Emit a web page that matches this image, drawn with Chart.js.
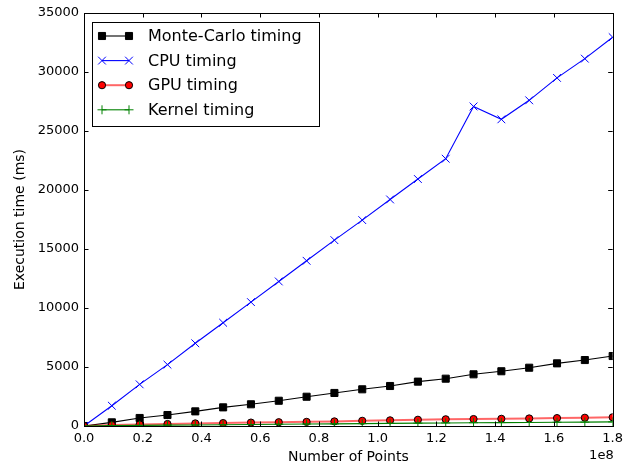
<!DOCTYPE html>
<html>
<head>
<meta charset="utf-8">
<script src="https://cdn.jsdelivr.net/npm/chart.js@4/dist/chart.umd.min.js"></script>
<style>
  html, body { margin: 0; padding: 0; background: #fff; }
  #wrap { width: 628px; height: 468px; }
</style>
</head>
<body>
<div id="wrap"><canvas id="timingChart" width="628" height="468"></canvas></div>
<script>
        // Number of points per run
        const pointCounts = [0, 9473684, 18947368, 28421053, 37894737, 47368421, 56842105, 66315789,
            75789474, 85263158, 94736842, 104210526, 113684211, 123157895, 132631579, 142105263,
            151578947, 161052632, 170526316, 180000000];

        // Execution times in ms
        const monteCarloTimes = [0, 310, 680, 930, 1240, 1580, 1840, 2140, 2480, 2800,
            3110, 3390, 3760, 4010, 4380, 4640, 4940, 5310, 5590, 5930];
        const cpuTimes = [0, 1720, 3530, 5200, 7010, 8750, 10500, 12250, 14000, 15750,
            17450, 19200, 20930, 22650, 27080, 25990, 27600, 29500, 31130, 32950];
        const gpuTimes = [0, 80, 130, 170, 220, 250, 290, 320, 350, 390,
            440, 480, 530, 570, 590, 610, 640, 670, 700, 740];
        const kernelTimes = [0, 30, 50, 70, 90, 110, 130, 150, 170, 180,
            200, 220, 240, 260, 280, 290, 300, 320, 330, 350];

        const xTicks = [0, 0.2e8, 0.4e8, 0.6e8, 0.8e8, 1.0e8, 1.2e8, 1.4e8, 1.6e8, 1.8e8];
        const yTicks = [0, 5000, 10000, 15000, 20000, 25000, 30000, 35000];

        const FONT = "'DejaVu Sans', 'Liberation Sans', sans-serif";

        function toPoints(values) {
            return values.map((v, i) => ({ x: pointCounts[i], y: v }));
        }

        const series = [
            { label: 'Monte-Carlo timing', data: monteCarloTimes, line: '#000000', lineWidth: 1.1,
              pointStyle: 'rect', radius: 5, fill: '#000000', edge: '#000000', order: 4 },
            { label: 'CPU timing', data: cpuTimes, line: '#0000ff', lineWidth: 1.1,
              pointStyle: 'crossRot', radius: 5.5, fill: '#0000ff', edge: '#0000ff', order: 3 },
            { label: 'GPU timing', data: gpuTimes, line: 'rgba(255, 0, 0, 0.6)', lineWidth: 2,
              pointStyle: 'circle', radius: 3.6, fill: '#ff0000', edge: '#000000', order: 2 },
            { label: 'Kernel timing', data: kernelTimes, line: '#008000', lineWidth: 1.1,
              pointStyle: 'cross', radius: 4.5, fill: '#008000', edge: '#008000', order: 1 }
        ];

        // Frame with inward ticks on all four sides, plus the 1e8 offset text
        const framePlugin = {
            id: 'frame',
            afterDatasetsDraw(chart) {
                const { ctx, chartArea: a, scales } = chart;
                const len = 4.5;
                ctx.save();
                ctx.strokeStyle = '#000';
                ctx.lineWidth = 1;
                ctx.beginPath();
                xTicks.forEach(v => {
                    const px = Math.round(scales.x.getPixelForValue(v)) + 0.5;
                    ctx.moveTo(px, a.bottom); ctx.lineTo(px, a.bottom - len);
                    ctx.moveTo(px, a.top); ctx.lineTo(px, a.top + len);
                });
                yTicks.forEach(v => {
                    const py = Math.round(scales.y.getPixelForValue(v)) + 0.5;
                    ctx.moveTo(a.left, py); ctx.lineTo(a.left + len, py);
                    ctx.moveTo(a.right, py); ctx.lineTo(a.right - len, py);
                });
                ctx.stroke();
                ctx.strokeRect(Math.round(a.left) + 0.5, Math.round(a.top) + 0.5,
                    Math.round(a.right - a.left), Math.round(a.bottom - a.top));

                ctx.fillStyle = '#000';
                ctx.font = '13px ' + FONT;
                ctx.textAlign = 'right';
                ctx.textBaseline = 'middle';
                ctx.fillText('1e8', a.right + 1, 456);
                ctx.restore();
            }
        };

        // Boxed legend in the upper left corner of the plot
        const legendPlugin = {
            id: 'boxLegend',
            afterDraw(chart) {
                const { ctx } = chart;
                const box = { x: 92.5, y: 22.5, w: 227, h: 104 };
                ctx.save();
                ctx.fillStyle = '#fff';
                ctx.strokeStyle = '#000';
                ctx.lineWidth = 1;
                ctx.fillRect(box.x, box.y, box.w, box.h);
                ctx.strokeRect(box.x, box.y, box.w, box.h);

                series.forEach((s, i) => {
                    const y = 36 + i * 24.6;
                    const x0 = 102, x1 = 129;
                    ctx.strokeStyle = s.line;
                    ctx.lineWidth = s.lineWidth;
                    ctx.beginPath();
                    ctx.moveTo(x0, y); ctx.lineTo(x1, y);
                    ctx.stroke();
                    [x0, x1].forEach(px => {
                        ctx.fillStyle = s.fill;
                        ctx.strokeStyle = s.edge;
                        ctx.lineWidth = 1;
                        Chart.helpers.drawPoint(ctx, {
                            pointStyle: s.pointStyle, radius: s.radius, rotation: 0, borderWidth: 1
                        }, px, y);
                    });
                    ctx.fillStyle = '#000';
                    ctx.font = '16px ' + FONT;
                    ctx.textAlign = 'left';
                    ctx.textBaseline = 'middle';
                    ctx.fillText(s.label, 148, y + 1);
                });
                ctx.restore();
            }
        };

        document.addEventListener('DOMContentLoaded', function () {
            const ctx = document.getElementById('timingChart').getContext('2d');
            new Chart(ctx, {
                type: 'line',
                data: {
                    datasets: series.map(s => ({
                        label: s.label,
                        data: toPoints(s.data),
                        order: s.order,
                        borderColor: s.line,
                        borderWidth: s.lineWidth,
                        backgroundColor: s.fill,
                        pointStyle: s.pointStyle,
                        pointRadius: s.radius,
                        pointBackgroundColor: s.fill,
                        pointBorderColor: s.edge,
                        pointBorderWidth: 1,
                        tension: 0,
                        fill: false
                    }))
                },
                options: {
                    responsive: false,
                    animation: false,
                    events: [],
                    layout: { padding: { left: 0, right: 11, top: 13, bottom: 0 } },
                    plugins: {
                        legend: { display: false },
                        tooltip: { enabled: false }
                    },
                    scales: {
                        x: {
                            type: 'linear',
                            min: 0,
                            max: 1.8e8,
                            afterBuildTicks: scale => { scale.ticks = xTicks.map(v => ({ value: v })); },
                            afterFit: scale => { scale.height = 42; },
                            grid: { display: false, drawTicks: false },
                            border: { display: false },
                            ticks: {
                                padding: 5,
                                color: '#000',
                                font: { family: FONT, size: 13 },
                                maxRotation: 0,
                                callback: v => (v / 1e8).toFixed(1)
                            },
                            title: {
                                display: true,
                                text: 'Number of Points',
                                color: '#000',
                                font: { family: FONT, size: 14 },
                                padding: { top: 0, bottom: 2.6 }
                            }
                        },
                        y: {
                            type: 'linear',
                            min: 0,
                            max: 35000,
                            afterBuildTicks: scale => { scale.ticks = yTicks.map(v => ({ value: v })); },
                            afterFit: scale => { scale.width = 84; },
                            grid: { display: false, drawTicks: false },
                            border: { display: false },
                            ticks: {
                                padding: 5,
                                color: '#000',
                                font: { family: FONT, size: 13 },
                                callback: v => String(v)
                            },
                            title: {
                                display: true,
                                text: 'Execution time (ms)',
                                color: '#000',
                                font: { family: FONT, size: 14 },
                                padding: { top: 11.6, bottom: 0 }
                            }
                        }
                    }
                },
                plugins: [framePlugin, legendPlugin]
            });
        });
</script>
</body>
</html>
